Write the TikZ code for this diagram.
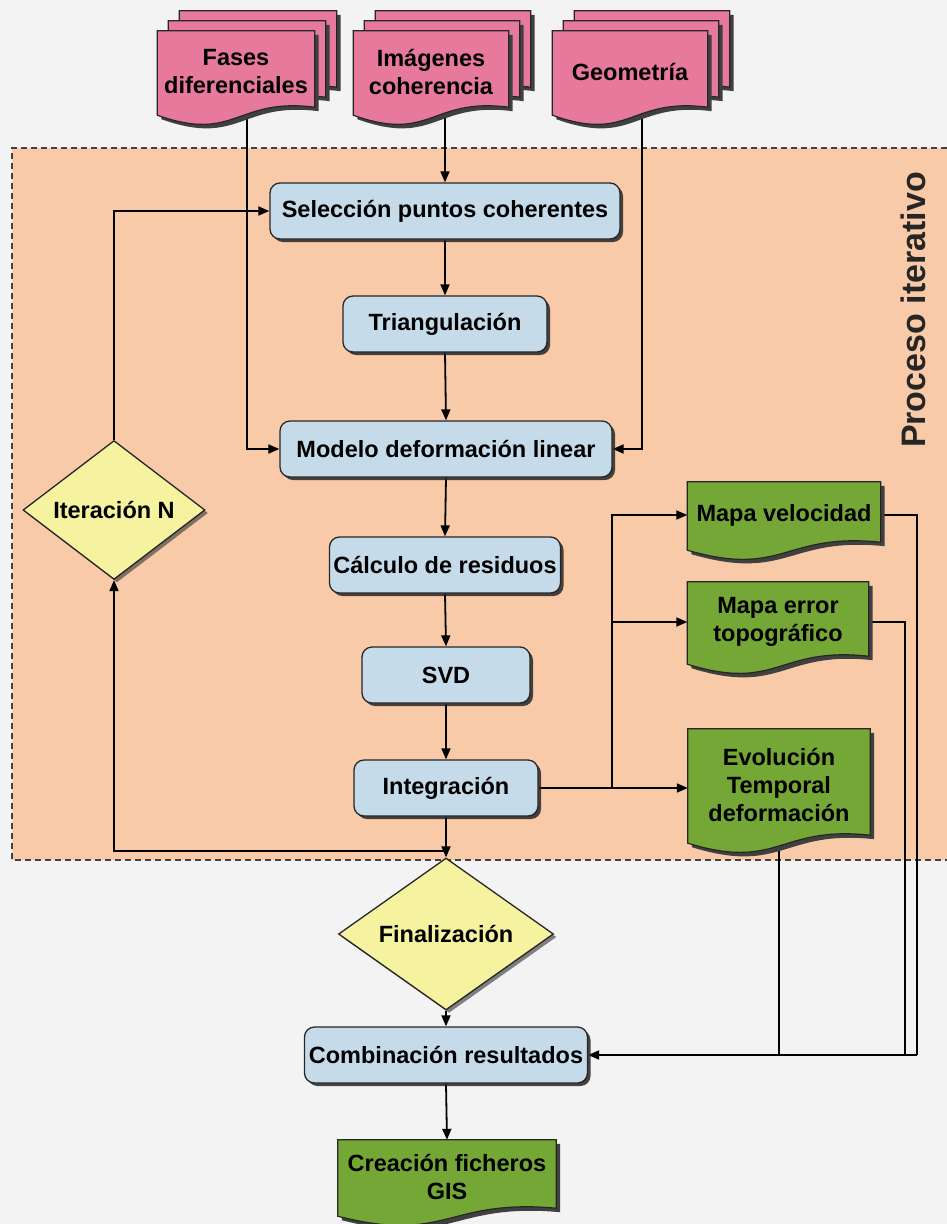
\documentclass[tikz,border=0pt]{standalone}
\usepackage{fontspec}
\setmainfont{Liberation Sans}
\usetikzlibrary{shapes.geometric,arrows.meta,shadows,calc}

\definecolor{pagebg}{RGB}{243,243,243}
\definecolor{regionbg}{RGB}{248,202,168}
\definecolor{inpink}{RGB}{231,121,157}
\definecolor{procblue}{RGB}{198,219,234}
\definecolor{testyellow}{RGB}{245,242,160}
\definecolor{outgreen}{RGB}{116,167,54}

\pgfdeclarelayer{back}
\pgfdeclarelayer{lines}
\pgfdeclarelayer{sheets}
\pgfsetlayers{back,lines,sheets,main}

% sheet with a wavy lower edge round a node, shifted by (#3,#4)
\newcommand{\docfill}[4]{%
  \path[#1] let \p1=([shift={(#3,#4)}]#2.south west), \p2=([shift={(#3,#4)}]#2.south east),
                \p3=([shift={(#3,#4)}]#2.north west), \p4=([shift={(#3,#4)}]#2.north east) in
    (\p3) -- (\p4) -- ({\x2},{\y2+6pt})
    .. controls ({0.5*(\x1+\x2)},{\y2+16pt}) and ({0.5*(\x1+\x2)},{\y2-30pt}) ..
    ({\x1},{\y1-2pt}) -- cycle;}
\newcommand{\docsheet}[4]{%
  \docfill{fill=black!75}{#1}{#3+4}{#4+4}
  \docfill{fill=#2,draw=black!85,line width=1.2pt}{#1}{#3}{#4}}

\begin{document}
\begin{tikzpicture}[x=1pt,y=-1pt,
    txt/.style={font=\bfseries\fontsize{23.5}{28}\selectfont, align=center},
    proc/.style={txt, rounded corners=10pt, draw=black!85, line width=1.3pt, fill=procblue,
      minimum height=56, inner sep=0,
      drop shadow={shadow xshift=3pt, shadow yshift=-3pt, fill=black!85, opacity=.85}},
    test/.style={txt, diamond, draw=black!85, line width=1.3pt, fill=testyellow, inner sep=0,
      drop shadow={shadow xshift=3pt, shadow yshift=-3pt, fill=black!80, opacity=.6}},
    sheet/.style={txt, inner sep=0},
    link/.style={line width=1.8pt},
    arr/.style={link, -{Triangle[length=11pt,width=9pt]}}]

  \useasboundingbox (0,0) rectangle (947,1224);

  \node[sheet, minimum width=157, minimum height=82] (fases) at (236,72) {Fases\\diferenciales};
  \node[sheet, minimum width=155, minimum height=82] (imag) at (431,72) {Imágenes\\coherencia};
  \node[sheet, minimum width=155, minimum height=82] (geom) at (630,72) {Geometría};

  \node[proc, minimum width=350] (sel) at (445,211) {Selección puntos coherentes};
  \node[proc, minimum width=204] (tri) at (445,324) {Triangulación};
  \node[proc, minimum width=332] (mod) at (446,449) {Modelo deformación linear};
  \node[proc, minimum width=231] (resid) at (445,565) {Cálculo de residuos};
  \node[proc, minimum width=168] (svd) at (446,675) {SVD};
  \node[proc, minimum width=184] (integ) at (446,788) {Integración};

  \node[test, minimum width=182, minimum height=91] (iter) at (114,510) {Iteración N};
  \node[test, minimum width=215, minimum height=102] (fin) at (446,934) {Finalización};
  \node[proc, minimum width=283] (comb) at (446,1055) {Combinación resultados};

  \node[sheet, minimum width=193, minimum height=66] (vel) at (784,515) {Mapa velocidad};
  \node[sheet, minimum width=181, minimum height=80] (err) at (778,622) {Mapa error\\topográfico};
  \node[sheet, minimum width=182, minimum height=112] (evo) at (779,785) {Evolución\\Temporal\\deformación};
  \node[sheet, minimum width=218, minimum height=74] (gis) at (447,1177) {Creación ficheros\\GIS};

  \node[rotate=90, font=\bfseries\fontsize{34}{40}\selectfont, text=black!85] (title) at (913,310) {Proceso iterativo};

  \begin{pgfonlayer}{back}
    \fill[pagebg] (0,0) rectangle (947,1224);
    \fill[regionbg] (12,148) rectangle (947,860);
    \draw[black!75, line width=1.3pt, dash pattern=on 6pt off 4pt] (947,148) -- (12,148) -- (12,860) -- (947,860);
  \end{pgfonlayer}

  \begin{pgfonlayer}{sheets}
    \foreach \s in {fases,imag,geom} {
      \docsheet{\s}{inpink}{22}{-20}
      \docsheet{\s}{inpink}{11}{-10}
      \docsheet{\s}{inpink}{0}{0}
    }
    \foreach \s in {vel,err,evo,gis} {\docsheet{\s}{outgreen}{0}{0}}
  \end{pgfonlayer}

  \begin{pgfonlayer}{lines}
    \draw[arr] ([xshift=11]fases.south) |- (mod.west);
    \draw[arr] (imag.south -| sel.north) -- (sel.north);
    \draw[arr] ([xshift=12]geom.south) |- (mod.east);

    \draw[arr] (sel.south) -- (tri.north);
    \draw[arr] (tri.south) -- (mod.north);
    \draw[arr] (mod.south) -- (resid.north);
    \draw[arr] (resid.south) -- (svd.north);
    \draw[arr] (svd.south) -- (integ.north);
    \draw[arr] (integ.south) -- (fin.north);

    \coordinate (loop) at (446,851);
    \draw[arr] (loop) -| (iter.south);
    \draw[arr] (iter.north) |- (sel.west);

    \coordinate (split) at (612,788);
    \draw[arr] (integ.east) -- (integ.east -| evo.west);
    \draw[arr] (split) |- (vel.west);
    \draw[arr] (split |- err.west) -- (err.west);

    \coordinate (railv) at (917,1055);
    \coordinate (raile) at (905,1055);
    \draw[link] (vel.east) -| (railv);
    \draw[link] (err.east) -| (raile);
    \draw[link] (evo.south) -- (evo.south |- comb.east);
    \draw[arr] (railv) -- (comb.east);

    \draw[arr] (fin.south) -- (comb.north);
    \draw[arr] (comb.south) -- (gis.north);
  \end{pgfonlayer}
\end{tikzpicture}
\end{document}
